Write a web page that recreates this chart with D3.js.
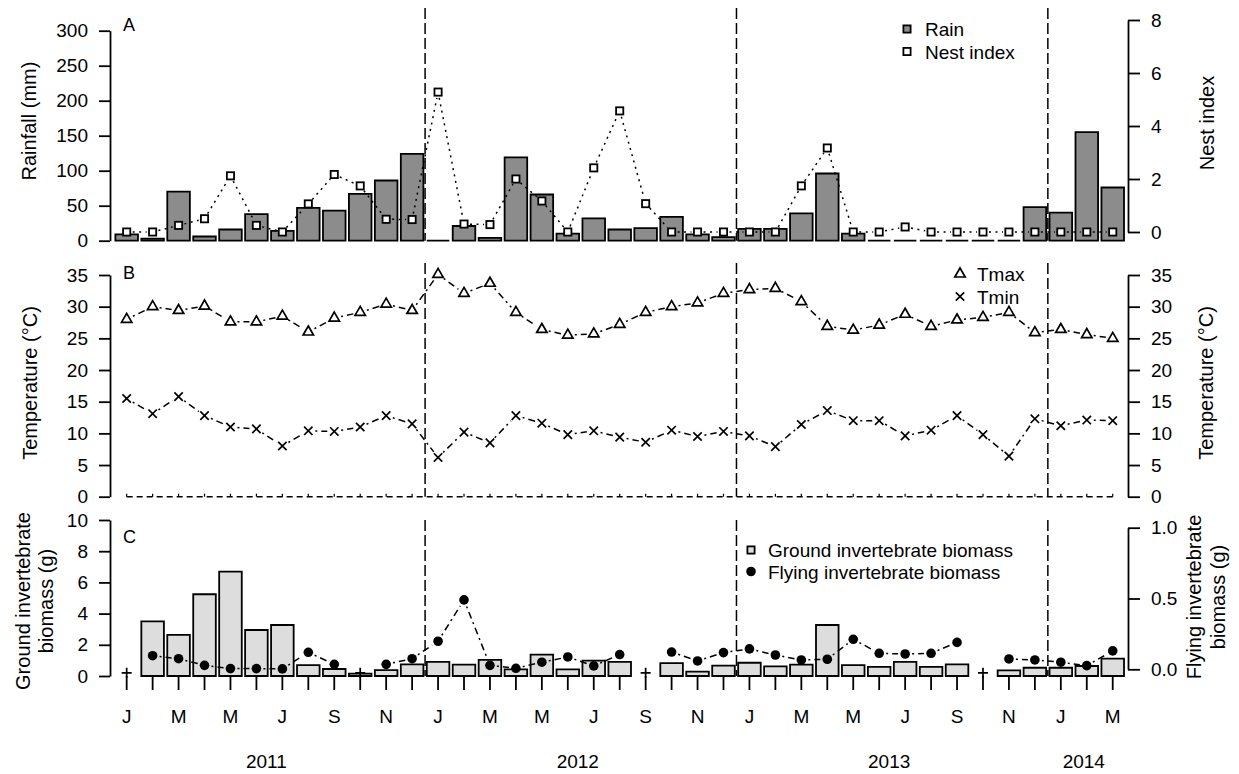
<!DOCTYPE html>
<html>
<head>
<meta charset="utf-8">
<script src="https://cdn.jsdelivr.net/npm/d3@7"></script>
<style>
  body { margin: 0; background: #fff; }
  text { font-family: "Liberation Sans", Arial, Helvetica, sans-serif; fill: #000; }
</style>
</head>
<body>
<div id="chart"></div>
<script>
// DATA (Jan 2011 - Mar 2014)
var months = [
  "Jan 2011","Feb 2011","Mar 2011","Apr 2011","May 2011","Jun 2011","Jul 2011","Aug 2011","Sep 2011","Oct 2011","Nov 2011","Dec 2011",
  "Jan 2012","Feb 2012","Mar 2012","Apr 2012","May 2012","Jun 2012","Jul 2012","Aug 2012","Sep 2012","Oct 2012","Nov 2012","Dec 2012",
  "Jan 2013","Feb 2013","Mar 2013","Apr 2013","May 2013","Jun 2013","Jul 2013","Aug 2013","Sep 2013","Oct 2013","Nov 2013","Dec 2013",
  "Jan 2014","Feb 2014","Mar 2014"
];
var monthTicks = [
  "J","","M","","M","","J","","S","","N","",
  "J","","M","","M","","J","","S","","N","",
  "J","","M","","M","","J","","S","","N","",
  "J","","M"
];
var years = ["2011", "2012", "2013", "2014"];

// panel A
var rain = [9, 3, 70, 6, 16, 38, 14, 47, 43, 67, 86, 124,
            0, 21, 4, 119, 66, 10, 32, 16, 18, 34, 9, 5,
            17, 17, 39, 96, 10, 0, 0, 0, 0, 0, 0, 48,
            40, 155, 76];
var nestIndex = [0, 0, 0.25, 0.5, 2.12, 0.25, 0, 1.06, 2.17, 1.74, 0.48, 0.47,
                 5.28, 0.3, 0.28, 2.0, 1.17, 0, 2.42, 4.57, 1.07, 0, 0, 0,
                 0, 0, 1.74, 3.17, 0, 0, 0.19, 0, 0, 0, 0, 0,
                 0, 0, 0];
// panel B
var tmax = [28.0, 30.0, 29.4, 30.1, 27.6, 27.6, 28.5, 26.0, 28.2, 29.1, 30.4, 29.4,
            35.1, 32.1, 33.7, 29.1, 26.4, 25.5, 25.7, 27.2, 29.1, 30.0, 30.6, 32.1,
            32.7, 32.9, 30.8, 26.9, 26.3, 27.1, 28.8, 26.9, 27.9, 28.3, 29.1, 25.9,
            26.4, 25.6, 25.0];
var tmin = [15.5, 13.1, 15.8, 12.8, 11.0, 10.7, 8.0, 10.4, 10.3, 11.0, 12.8, 11.5,
            6.2, 10.2, 8.5, 12.8, 11.6, 9.8, 10.4, 9.4, 8.6, 10.5, 9.5, 10.3,
            9.6, 7.9, 11.4, 13.6, 12.0, 12.0, 9.6, 10.5, 12.8, 9.8, 6.4, 12.3,
            11.2, 12.1, 12.0];
var tempBase = [0, 0, 0, 0, 0, 0, 0, 0, 0, 0, 0, 0,
                0, 0, 0, 0, 0, 0, 0, 0, 0, 0, 0, 0,
                0, 0, 0, 0, 0, 0, 0, 0, 0, 0, 0, 0,
                0, 0, 0];
// panel C
var ground = [null, 3.5, 2.63, 5.24, 6.69, 2.95, 3.27, 0.7, 0.45, 0.15, 0.38, 0.75,
              0.9, 0.73, 1.03, 0.43, 1.37, 0.43, 0.98, 0.9, null, 0.83, 0.28, 0.66,
              0.85, 0.62, 0.73, 3.27, 0.7, 0.58, 0.9, 0.58, 0.75, null, 0.36, 0.53,
              0.53, 0.64, 1.11];
var flying = [null, 0.096, 0.075, 0.028, 0.005, 0.005, 0.003, 0.12, 0.035, null, 0.035, 0.075,
              0.198, 0.49, 0.028, 0.007, 0.05, 0.087, 0.024, 0.104, null, 0.122, 0.059, 0.118,
              0.144, 0.101, 0.066, 0.071, 0.212, 0.113, 0.108, 0.113, 0.19, null, 0.073, 0.066,
              0.05, 0.026, 0.13];

var rainTicks = [0, 50, 100, 150, 200, 250, 300];
var nestTicks = [0, 2, 4, 6, 8];
var tempTicks = [0, 5, 10, 15, 20, 25, 30, 35];
var groundTicks = [0, 2, 4, 6, 8, 10];
var flyTicks = [0, 0.5, 1];

// SVG
var svg = d3.select("#chart")
  .append("svg")
  .attr("width", 1239)
  .attr("height", 774);

svg.append("rect").attr("width", 1239).attr("height", 774).attr("fill", "#fff");

var x = d3.scaleBand()
  .domain(months)
  .range([113.7, 1125.7])
  .paddingInner(0.13)
  .paddingOuter(0.065);

function cx(i) { return x(months[i]) + x.bandwidth() / 2; }

var yRain = d3.scaleLinear().domain([0, 300]).range([240.7, 30.7]);
var yNest = d3.scaleLinear().domain([0, 8]).range([232, 20]);
var yTemp = d3.scaleLinear().domain([0, 35]).range([496.7, 275]);
var yGround = d3.scaleLinear().domain([0, 10]).range([676, 520]);
var yFly = d3.scaleLinear().domain([0, 1]).range([669.3, 527.7]);

var leftX = 110, rightX = 1128;
var tickFont = 19, titleFont = 20, legendFont = 19;

// HELPERS
function indexed(values) {
  return values.map(function(v, i) { return {v: v, i: i}; })
    .filter(function(d) { return d.v !== null; });
}

function drawBars(values, y, fill) {
  svg.append("g")
    .selectAll("path")
    .data(indexed(values))
    .enter()
    .append("path")
    .attr("d", function(d) {
      var x0 = x(months[d.i]), w = x.bandwidth(), y0 = y(0), y1 = y(d.v);
      return "M" + x0 + "," + y0 + "V" + y1 + "H" + (x0 + w) + "V" + y0 + "Z";
    })
    .attr("fill", fill)
    .attr("stroke", "#000")
    .attr("stroke-width", 1.8);
}

// line segments with gaps round the points (like R type = "b")
function drawGapLine(values, y, gap, dash) {
  var segs = [];
  for (var i = 0; i < values.length - 1; i++) {
    if (values[i] === null || values[i + 1] === null) continue;
    var x1 = cx(i), y1 = y(values[i]), x2 = cx(i + 1), y2 = y(values[i + 1]);
    var dx = x2 - x1, dy = y2 - y1, L = Math.sqrt(dx * dx + dy * dy);
    if (L <= 2 * gap) continue;
    var ux = dx / L, uy = dy / L;
    segs.push([x1 + ux * gap, y1 + uy * gap, x2 - ux * gap, y2 - uy * gap]);
  }
  svg.append("g")
    .selectAll("line")
    .data(segs)
    .enter()
    .append("line")
    .attr("x1", function(s) { return s[0]; })
    .attr("y1", function(s) { return s[1]; })
    .attr("x2", function(s) { return s[2]; })
    .attr("y2", function(s) { return s[3]; })
    .attr("stroke", "#000")
    .attr("stroke-width", 1.5)
    .attr("stroke-dasharray", dash);
}

function trianglePath(px, py) {
  var h = 5.2;
  return "M" + px + "," + (py - 6.0) + "L" + (px + h) + "," + (py + 3.0) + "L" + (px - h) + "," + (py + 3.0) + "Z";
}
function crossPath(px, py, s) {
  return "M" + (px - s) + "," + (py - s) + "L" + (px + s) + "," + (py + s) +
         "M" + (px - s) + "," + (py + s) + "L" + (px + s) + "," + (py - s);
}
function plusPath(px, py, s) {
  return "M" + (px - s) + "," + py + "H" + (px + s) + "M" + px + "," + (py - s) + "V" + (py + s);
}

function styleAxis(g, size) {
  g.selectAll("path.domain").attr("stroke-width", 1.8);
  g.selectAll(".tick line").attr("stroke-width", 1.8);
  g.selectAll(".tick text")
    .style("font-family", '"Liberation Sans", Arial, Helvetica, sans-serif')
    .style("font-size", size + "px");
}

function leftAxis(y, ticks, fmt) {
  var g = svg.append("g")
    .attr("transform", "translate(" + leftX + ",0)")
    .call(d3.axisLeft(y).tickValues(ticks).tickSize(11).tickSizeOuter(0).tickPadding(11).tickFormat(fmt || d3.format("d")));
  styleAxis(g, tickFont);
}
function rightAxis(y, ticks, fmt) {
  var g = svg.append("g")
    .attr("transform", "translate(" + rightX + ",0)")
    .call(d3.axisRight(y).tickValues(ticks).tickSize(12).tickSizeOuter(0).tickPadding(11).tickFormat(fmt || d3.format("d")));
  styleAxis(g, tickFont);
}

function vTitle(lines, py) {
  lines.forEach(function(t) {
    svg.append("text")
      .attr("transform", "translate(" + t.x + "," + py + ")rotate(-90)")
      .attr("text-anchor", "middle")
      .style("font-size", titleFont + "px")
      .text(t.s);
  });
}

// dividers between years
var dividerIdx = [11, 23, 35];
function dividers(yTop, yBottom) {
  svg.append("g")
    .selectAll("line")
    .data(dividerIdx)
    .enter()
    .append("line")
    .attr("x1", function(i) { return cx(i) + x.step() / 2; })
    .attr("x2", function(i) { return cx(i) + x.step() / 2; })
    .attr("y1", yTop)
    .attr("y2", yBottom)
    .attr("stroke", "#000")
    .attr("stroke-width", 1.5)
    .attr("stroke-dasharray", "11,4");
}

function legendText(g, px, py, s) {
  g.append("text").attr("x", px).attr("y", py).style("font-size", legendFont + "px").text(s);
}

// ---------- PANEL A ----------
dividers(8, 240.7);
drawBars(rain, yRain, "#8c8c8c");
drawGapLine(nestIndex, yNest, 6, "2,4.5");
svg.append("g")
  .selectAll("rect")
  .data(indexed(nestIndex))
  .enter()
  .append("rect")
  .attr("x", function(d) { return cx(d.i) - 3.6; })
  .attr("y", function(d) { return yNest(d.v) - 3.6; })
  .attr("width", 7.2)
  .attr("height", 7.2)
  .attr("fill", "#fff")
  .attr("stroke", "#000")
  .attr("stroke-width", 1.8);

leftAxis(yRain, rainTicks);
rightAxis(yNest, nestTicks);
vTitle([{s: "Rainfall (mm)", x: 36}], 121);
vTitle([{s: "Nest index", x: 1214}], 123);
svg.append("text").attr("x", 123).attr("y", 31).style("font-size", "18px").text("A");

// legend A
var legA = svg.append("g").attr("transform", "translate(907,0)");
legA.append("rect").attr("x", -3.6).attr("y", 29 - 3.6).attr("width", 7.2).attr("height", 7.2)
  .attr("fill", "#8c8c8c").attr("stroke", "#000").attr("stroke-width", 1.8);
legA.append("rect").attr("x", -3.6).attr("y", 51.5 - 3.6).attr("width", 7.2).attr("height", 7.2)
  .attr("fill", "#fff").attr("stroke", "#000").attr("stroke-width", 1.8);
legendText(legA, 18, 35.5, "Rain");
legendText(legA, 18, 58.5, "Nest index");

// ---------- PANEL B ----------
dividers(263, 496.7);
// dashed base line with small ticks
svg.append("line")
  .attr("x1", cx(0)).attr("x2", cx(months.length - 1))
  .attr("y1", yTemp(0)).attr("y2", yTemp(0))
  .attr("stroke", "#000").attr("stroke-width", 1.5).attr("stroke-dasharray", "6,4");
svg.append("g")
  .selectAll("line")
  .data(indexed(tempBase))
  .enter()
  .append("line")
  .attr("x1", function(d) { return cx(d.i); })
  .attr("x2", function(d) { return cx(d.i); })
  .attr("y1", function(d) { return yTemp(d.v); })
  .attr("y2", function(d) { return yTemp(d.v) - 3; })
  .attr("stroke", "#000").attr("stroke-width", 1.2);

drawGapLine(tmax, yTemp, 7, "2,4,7,4");
drawGapLine(tmin, yTemp, 7, "2,4,7,4");
svg.append("g")
  .selectAll("path")
  .data(indexed(tmax))
  .enter()
  .append("path")
  .attr("d", function(d) { return trianglePath(cx(d.i), yTemp(d.v)); })
  .attr("fill", "none").attr("stroke", "#000").attr("stroke-width", 1.7);
svg.append("g")
  .selectAll("path")
  .data(indexed(tmin))
  .enter()
  .append("path")
  .attr("d", function(d) { return crossPath(cx(d.i), yTemp(d.v), 4.2); })
  .attr("fill", "none").attr("stroke", "#000").attr("stroke-width", 1.7);

leftAxis(yTemp, tempTicks);
rightAxis(yTemp, tempTicks);
vTitle([{s: "Temperature (\u00B0C)", x: 37}], 383);
vTitle([{s: "Temperature (\u00B0C)", x: 1213}], 383);
svg.append("text").attr("x", 123).attr("y", 279).style("font-size", "18px").text("B");

// legend B
var legB = svg.append("g").attr("transform", "translate(960,0)");
legB.append("path").attr("d", trianglePath(0, 274)).attr("fill", "none").attr("stroke", "#000").attr("stroke-width", 1.7);
legB.append("path").attr("d", crossPath(0, 296.5, 4.2)).attr("fill", "none").attr("stroke", "#000").attr("stroke-width", 1.7);
legendText(legB, 17, 280.5, "Tmax");
legendText(legB, 17, 303.5, "Tmin");

// ---------- PANEL C ----------
dividers(520, 676);
drawBars(ground, yGround, "#dddddd");
drawGapLine(flying, yFly, 7, "2,4,7,4");
svg.append("g")
  .selectAll("circle")
  .data(indexed(flying))
  .enter()
  .append("circle")
  .attr("cx", function(d) { return cx(d.i); })
  .attr("cy", function(d) { return yFly(d.v); })
  .attr("r", 4.8)
  .attr("fill", "#000");
// missing flying samples
svg.append("g")
  .selectAll("path")
  .data(flying.map(function(v, i) { return {v: v, i: i}; }).filter(function(d) { return d.v === null; }))
  .enter()
  .append("path")
  .attr("d", function(d) { return plusPath(cx(d.i), yFly(0) + 3.5, 5); })
  .attr("stroke", "#000").attr("stroke-width", 1.7);

leftAxis(yGround, groundTicks);
rightAxis(yFly, flyTicks, d3.format(".1f"));
vTitle([{s: "Ground invertebrate", x: 30}, {s: "biomass (g)", x: 53}], 601);
vTitle([{s: "Flying invertebrate", x: 1201}, {s: "biomass (g)", x: 1225}], 597);
svg.append("text").attr("x", 123).attr("y", 543).style("font-size", "18px").text("C");

// legend C
var legC = svg.append("g").attr("transform", "translate(751,0)");
legC.append("rect").attr("x", -3.6).attr("y", 550 - 3.6).attr("width", 7.2).attr("height", 7.2)
  .attr("fill", "#dddddd").attr("stroke", "#000").attr("stroke-width", 1.8);
legC.append("circle").attr("cx", 0).attr("cy", 571.5).attr("r", 4.8).attr("fill", "#000");
legendText(legC, 17, 557, "Ground invertebrate biomass");
legendText(legC, 17, 578.5, "Flying invertebrate biomass");

// month axis
var xAxisG = svg.append("g")
  .attr("transform", "translate(0," + yGround(0) + ")")
  .call(d3.axisBottom(x).tickSize(14).tickSizeOuter(0).tickFormat(function(d, i) { return monthTicks[i]; }));
xAxisG.select("path.domain").remove();
xAxisG.selectAll(".tick line").attr("stroke-width", 1.8);
xAxisG.selectAll(".tick text")
  .attr("y", 47).attr("dy", 0)
  .style("font-family", '"Liberation Sans", Arial, Helvetica, sans-serif')
  .style("font-size", "19px");

// year labels
years.forEach(function(yr) {
  var idx = months.map(function(m, i) { return m.slice(-4) === yr ? i : -1; }).filter(function(i) { return i >= 0; });
  var mid = (cx(idx[0]) + cx(idx[idx.length - 1])) / 2;
  svg.append("text")
    .attr("x", mid - 3)
    .attr("y", 768)
    .attr("text-anchor", "middle")
    .style("font-size", "19px")
    .text(yr);
});
</script>
</body>
</html>
